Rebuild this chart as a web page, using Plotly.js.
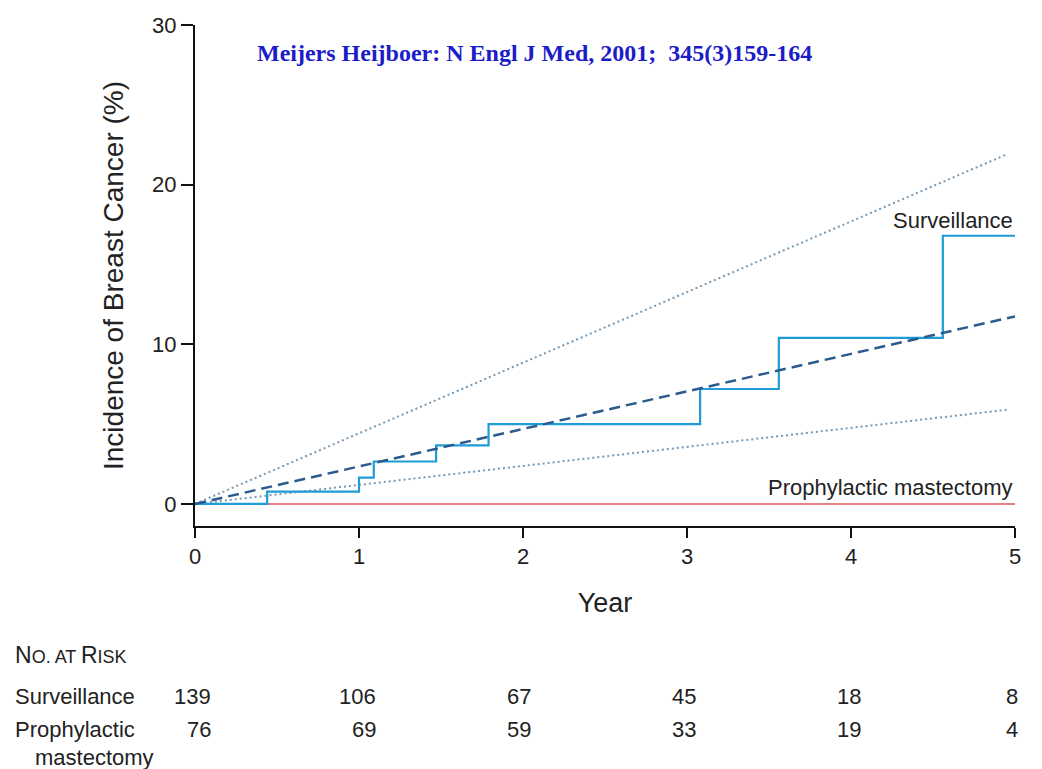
<!DOCTYPE html>
<html>
<head>
<meta charset="utf-8">
<script src="https://cdn.plot.ly/plotly-3.0.1.min.js"></script>
<style>html,body{margin:0;padding:0;background:#fff;}#chart{width:1042px;height:769px;}</style>
</head>
<body>
<div id="chart"></div>
<script>
// Kaplan-Meier step for surveillance group
const survYears = [0, 0.44, 1.0, 1.09, 1.47, 1.79, 3.08, 3.56, 4.56, 5.0];
const survIncidence = [0, 0.77, 1.65, 2.66, 3.67, 5.0, 7.2, 10.4, 16.8, 16.8];
// Expected incidence (dashed) and its confidence bounds (dotted)
const expYears = [0, 5.0];
const expIncidence = [0, 11.75];
const upperYears = [0, 4.95];
const upperIncidence = [0, 21.9];
const lowerYears = [0, 4.95];
const lowerIncidence = [0, 5.9];
// Prophylactic mastectomy group
const pmYears = [0, 5.0];
const pmIncidence = [0, 0];
// Number at risk table
const riskYears = [0, 1, 2, 3, 4, 5];
const riskSurveillance = [139, 106, 67, 45, 18, 8];
const riskMastectomy = [76, 69, 59, 33, 19, 4];
const xTicks = [0, 1, 2, 3, 4, 5];
const yTicks = [0, 10, 20, 30];

const font = 'Liberation Sans, Arial, sans-serif';
const txt = '#222222';
const riskShift = [18, 19, 10, 11, 12, 5];

const traces = [
  {x: upperYears, y: upperIncidence, mode: 'lines', line: {color: '#7399b6', width: 2, dash: '2px,3px'}, hoverinfo: 'skip'},
  {x: lowerYears, y: lowerIncidence, mode: 'lines', line: {color: '#7399b6', width: 2, dash: '2px,3px'}, hoverinfo: 'skip'},
  {x: pmYears, y: pmIncidence, mode: 'lines', line: {color: '#dc5a55', width: 1.5}},
  {x: survYears, y: survIncidence, mode: 'lines', line: {color: '#1f9bd6', width: 2.2, shape: 'hv'}},
  {x: expYears, y: expIncidence, mode: 'lines', line: {color: '#2b5a8e', width: 2.5, dash: '11px,6px'}}
];

const annotations = [
  {xref: 'paper', yref: 'paper', x: 0.4146, y: 0.944, text: 'Meijers Heijboer: N Engl J Med, 2001;  345(3)159-164', showarrow: false, xanchor: 'center', yanchor: 'middle', font: {family: 'Liberation Serif, Times New Roman, serif', size: 24, color: '#1c1cc8', weight: 'bold'}},
  {xref: 'x', yref: 'y', x: 5, y: 16.8, text: 'Surveillance', showarrow: false, xanchor: 'right', yanchor: 'bottom', yshift: 1, font: {family: font, size: 22, color: txt}},
  {xref: 'x', yref: 'y', x: 5, y: 0, text: 'Prophylactic mastectomy', showarrow: false, xanchor: 'right', yanchor: 'bottom', yshift: 2, font: {family: font, size: 22, color: txt}},
  {xref: 'paper', yref: 'paper', x: -0.222, y: -0.2575, text: 'N<span style="font-size:18px">O. AT </span>R<span style="font-size:18px">ISK</span>', showarrow: false, xanchor: 'left', yanchor: 'middle', font: {family: font, size: 23, color: txt}},
  {xref: 'paper', yref: 'paper', x: -0.222, y: -0.3413, text: 'Surveillance', showarrow: false, xanchor: 'left', yanchor: 'middle', font: {family: font, size: 22, color: txt}},
  {xref: 'paper', yref: 'paper', x: -0.222, y: -0.4052, text: 'Prophylactic', showarrow: false, xanchor: 'left', yanchor: 'middle', font: {family: font, size: 22, color: txt}},
  {xref: 'paper', yref: 'paper', x: -0.1976, y: -0.463, text: 'mastectomy', showarrow: false, xanchor: 'left', yanchor: 'middle', font: {family: font, size: 22, color: txt}}
];
riskYears.forEach((yr, i) => {
  annotations.push({xref: 'x', yref: 'paper', x: yr, y: -0.3413, text: String(riskSurveillance[i]), showarrow: false, xanchor: 'right', yanchor: 'middle', xshift: riskShift[i], font: {family: font, size: 22, color: txt}});
  annotations.push({xref: 'x', yref: 'paper', x: yr, y: -0.4052, text: String(riskMastectomy[i]), showarrow: false, xanchor: 'right', yanchor: 'middle', xshift: riskShift[i], font: {family: font, size: 22, color: txt}});
});

const layout = {
  width: 1042, height: 769,
  margin: {l: 195, r: 27, t: 25, b: 243},
  paper_bgcolor: '#ffffff', plot_bgcolor: '#ffffff',
  showlegend: false,
  xaxis: {
    range: [0, 5], tickvals: xTicks, ticktext: xTicks.map(String),
    showgrid: false, zeroline: false, showline: true, linecolor: '#111', linewidth: 2,
    ticks: 'outside', ticklen: 10, tickwidth: 2, tickcolor: '#111',
    tickfont: {family: font, size: 22, color: txt},
    title: {text: 'Year', font: {family: font, size: 27, color: txt}, standoff: 25}
  },
  yaxis: {
    range: [-1.38, 30], tickvals: yTicks, ticktext: yTicks.map(String),
    showgrid: false, zeroline: false, showline: true, linecolor: '#111', linewidth: 2,
    ticks: 'outside', ticklen: 12, tickwidth: 2, tickcolor: '#111',
    tickfont: {family: font, size: 22, color: txt},
    title: {text: 'Incidence of Breast Cancer (%)', font: {family: font, size: 28, color: txt}, standoff: 20}
  },
  annotations: annotations
};

Plotly.newPlot('chart', traces, layout, {displayModeBar: false, staticPlot: true});
</script>
</body>
</html>
